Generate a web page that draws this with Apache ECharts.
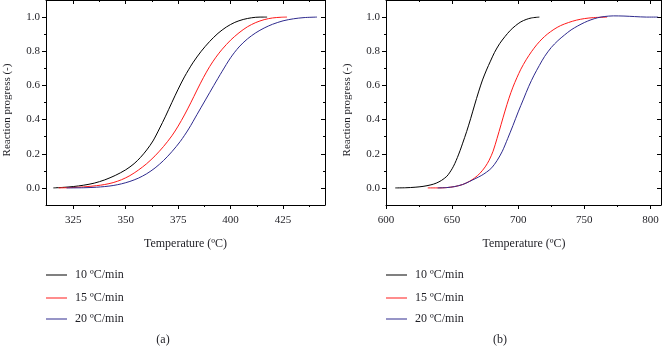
<!DOCTYPE html>
<html>
<head>
<meta charset="utf-8">
<script src="https://cdn.jsdelivr.net/npm/echarts@6/dist/echarts.min.js"></script>
<style>html,body{margin:0;padding:0;background:#fff;}#c{width:672px;height:346px;}</style>
</head>
<body>
<div id="c"></div>
<script>
// ---- data ----
const seriesNames = ['10 \u00BAC/min', '15 \u00BAC/min', '20 \u00BAC/min'];
// panel (a)
const a10 = [[315.5,0],[320,0.003],[325,0.008],[330,0.016],[335,0.028],[340,0.047],[345,0.073],[350,0.106],[354,0.142],[357,0.178],[360,0.222],[363,0.275],[366,0.345],[369,0.42],[372,0.5],[375,0.578],[378,0.65],[382,0.732],[386,0.8],[390,0.857],[394,0.905],[398,0.942],[402,0.969],[406,0.986],[410,0.996],[414,1.0],[417.4,1.0]];
const a15 = [[318,0],[324,0.002],[330,0.006],[336,0.013],[340,0.02],[344,0.031],[348,0.048],[352,0.072],[356,0.104],[360,0.142],[364,0.188],[368,0.242],[372,0.305],[375,0.362],[378,0.427],[381,0.498],[384,0.573],[387,0.645],[390,0.71],[393,0.765],[396,0.812],[400,0.865],[404,0.908],[408,0.943],[412,0.968],[416,0.985],[420,0.995],[424,0.999],[426.9,1.0]];
const a20 = [[321.8,0],[330,0.001],[336,0.004],[340,0.008],[344,0.014],[348,0.024],[352,0.038],[356,0.057],[360,0.083],[364,0.117],[368,0.16],[372,0.212],[376,0.272],[380,0.345],[384,0.43],[388,0.515],[392,0.6],[396,0.683],[400,0.762],[404,0.825],[408,0.872],[412,0.908],[416,0.936],[420,0.958],[425,0.978],[430,0.99],[435,0.997],[441.2,1.0]];
// panel (b)
const b10 = [[607,0],[615,0.001],[622,0.004],[628,0.009],[634,0.018],[638,0.028],[642,0.044],[646,0.068],[648,0.088],[650,0.112],[652,0.142],[654,0.178],[656,0.218],[658,0.262],[661,0.33],[664,0.405],[667,0.485],[670,0.562],[673,0.632],[676,0.69],[679,0.742],[682,0.792],[686,0.845],[690,0.886],[694,0.922],[698,0.95],[702,0.972],[706,0.986],[710,0.995],[716,1.0]];
const b15 = [[631.6,0],[640,0],[646,0.002],[652,0.008],[658,0.02],[663,0.038],[667,0.058],[671,0.085],[675,0.123],[678,0.162],[681,0.215],[684,0.29],[687,0.37],[690,0.45],[693,0.525],[696,0.59],[699,0.645],[702,0.695],[706,0.75],[710,0.797],[714,0.838],[718,0.872],[722,0.9],[727,0.928],[732,0.95],[738,0.968],[744,0.982],[750,0.991],[757,0.997],[767.2,1.0]];
const b20 = [[639,0],[646,0.002],[652,0.008],[658,0.02],[663,0.037],[668,0.056],[672,0.072],[676,0.092],[680,0.118],[684,0.16],[688,0.215],[692,0.288],[696,0.365],[700,0.445],[704,0.52],[708,0.595],[712,0.66],[716,0.717],[720,0.77],[725,0.822],[730,0.862],[735,0.895],[740,0.925],[745,0.948],[750,0.968],[755,0.984],[760,0.996],[765,1.003],[772,1.007],[780,1.006],[788,1.003],[797,1.0],[805.8,1.0]];
// axis ticks
const xTicksA = [325, 350, 375, 400, 425];
const xMinorA = [337.5, 362.5, 387.5, 412.5, 437.5];
const xTicksB = [600, 650, 700, 750, 800];
const xMinorB = [625, 675, 725, 775];
const yTicks = [0, 0.2, 0.4, 0.6, 0.8, 1.0];
const yMinor = [0.1, 0.3, 0.5, 0.7, 0.9];
const xRangeA = [312, 445];
const xRangeB = [600, 808];
const yRange = [-0.1, 1.1];

const FONT = '"Liberation Serif", "DejaVu Serif", serif';
const TXT = '#1e1e24';
const colors = ['#000000', '#ff1a1a', '#2e2a8e'];

function xAxes(gi, range, majors, minors) {
  const base = {gridIndex: gi, type: 'value', min: range[0], max: range[1], splitLine: {show: false}};
  return [
    Object.assign({}, base, {position: 'bottom',
      axisLine: {show: true, onZero: false, lineStyle: {color: '#000', width: 1}},
      axisTick: {show: true, inside: false, length: 4, customValues: majors, lineStyle: {color: '#000'}},
      axisLabel: {show: true, customValues: majors, margin: 10, fontFamily: FONT, fontSize: 11, color: TXT}}),
    Object.assign({}, base, {position: 'bottom',
      axisLine: {show: false, onZero: false},
      axisTick: {show: true, inside: false, length: 2, customValues: minors, lineStyle: {color: '#000'}},
      axisLabel: {show: false}}),
    Object.assign({}, base, {position: 'top',
      axisLine: {show: true, onZero: false, lineStyle: {color: '#000', width: 1}},
      axisTick: {show: true, inside: true, length: 4, customValues: majors, lineStyle: {color: '#000'}},
      axisLabel: {show: false}}),
    Object.assign({}, base, {position: 'top',
      axisLine: {show: false, onZero: false},
      axisTick: {show: true, inside: true, length: 2, customValues: minors, lineStyle: {color: '#000'}},
      axisLabel: {show: false}})
  ];
}
function yAxes(gi) {
  const base = {gridIndex: gi, type: 'value', min: yRange[0], max: yRange[1], splitLine: {show: false}};
  return [
    Object.assign({}, base, {position: 'left',
      axisLine: {show: true, onZero: false, lineStyle: {color: '#000', width: 1}},
      axisTick: {show: true, inside: false, length: 4, customValues: yTicks, lineStyle: {color: '#000'}},
      axisLabel: {show: true, customValues: yTicks, margin: 6, fontFamily: FONT, fontSize: 11, color: TXT,
        formatter: v => Number(v).toFixed(1)}}),
    Object.assign({}, base, {position: 'left',
      axisLine: {show: false, onZero: false},
      axisTick: {show: true, inside: false, length: 2, customValues: yMinor, lineStyle: {color: '#000'}},
      axisLabel: {show: false}}),
    Object.assign({}, base, {position: 'right',
      axisLine: {show: true, onZero: false, lineStyle: {color: '#000', width: 1}},
      axisTick: {show: true, inside: true, length: 4, customValues: yTicks, lineStyle: {color: '#000'}},
      axisLabel: {show: false}}),
    Object.assign({}, base, {position: 'right',
      axisLine: {show: false, onZero: false},
      axisTick: {show: true, inside: true, length: 2, customValues: yMinor, lineStyle: {color: '#000'}},
      axisLabel: {show: false}})
  ];
}

function line(name, data, color, xi, yi) {
  return {type: 'line', name: name, data: data, xAxisIndex: xi, yAxisIndex: yi,
    symbol: 'none', smooth: 0.3, clip: true,
    lineStyle: {color: color, width: 1}, itemStyle: {color: color}, emphasis: {disabled: true}};
}

function legendItem(name, color, left, top) {
  return {data: [{name: name, itemStyle: {color: color}}], left: left, top: top, icon: 'rect',
    itemWidth: 21, itemHeight: 1, selectedMode: false, padding: 0,
    textStyle: {fontFamily: FONT, fontSize: 12, color: TXT, padding: [0, 0, 0, 3]}};
}

const legendTops = [269, 292, 313];
const legends = [];
[46, 386].forEach(l => {
  seriesNames.forEach((n, i) => legends.push(legendItem(n, colors[i], l, legendTops[i])));
});

function txt(x, y, text, size, rot) {
  return {type: 'text', x: x, y: y, rotation: rot || 0, silent: true,
    style: {text: text, fill: TXT, font: size + 'px ' + FONT, align: 'center', verticalAlign: 'middle'}};
}

const option = {
  animation: false,
  backgroundColor: '#ffffff',
  grid: [
    {left: 46, top: 0, width: 279, height: 205},
    {left: 386, top: 0, width: 275, height: 205}
  ],
  xAxis: [].concat(xAxes(0, xRangeA, xTicksA, xMinorA), xAxes(1, xRangeB, xTicksB, xMinorB)),
  yAxis: [].concat(yAxes(0), yAxes(1)),
  legend: legends,
  series: [
    line(seriesNames[0], a10, colors[0], 0, 0),
    line(seriesNames[1], a15, colors[1], 0, 0),
    line(seriesNames[2], a20, colors[2], 0, 0),
    line(seriesNames[0], b10, colors[0], 4, 4),
    line(seriesNames[1], b15, colors[1], 4, 4),
    line(seriesNames[2], b20, colors[2], 4, 4)
  ],
  graphic: [
    txt(7, 110, 'Reaction progress (-)', 11, Math.PI / 2),
    txt(347, 110, 'Reaction progress (-)', 11, Math.PI / 2),
    txt(185.5, 244, 'Temperature (\u00BAC)', 12),
    txt(524, 244, 'Temperature (\u00BAC)', 12),
    txt(163, 340, '(a)', 12),
    txt(500, 340, '(b)', 12)
  ]
};
const chart = echarts.init(document.getElementById('c'), null, {renderer: 'canvas'});
chart.setOption(option);
</script>
</body>
</html>
